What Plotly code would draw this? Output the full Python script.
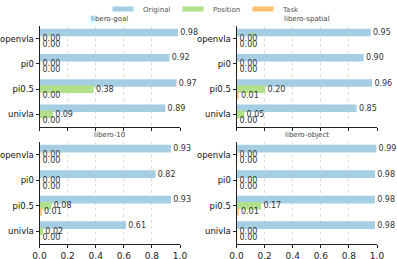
import plotly.graph_objects as go
from plotly.subplots import make_subplots

models = ["openvla", "pi0", "pi0.5", "univla"]
series_names = ["Original", "Position", "Task"]
colors = ["#a6cee3", "#b2df8a", "#fdbf6f"]

panel_titles = ["libero-goal", "libero-spatial", "libero-10", "libero-object"]

goal_original = [0.98, 0.92, 0.97, 0.89]
goal_position = [0.00, 0.00, 0.38, 0.09]
goal_task = [0.00, 0.00, 0.00, 0.00]

spatial_original = [0.95, 0.90, 0.96, 0.85]
spatial_position = [0.00, 0.00, 0.20, 0.05]
spatial_task = [0.00, 0.00, 0.01, 0.00]

ten_original = [0.93, 0.82, 0.93, 0.61]
ten_position = [0.00, 0.00, 0.08, 0.02]
ten_task = [0.00, 0.00, 0.01, 0.00]

object_original = [0.99, 0.98, 0.98, 0.98]
object_position = [0.00, 0.00, 0.17, 0.00]
object_task = [0.00, 0.00, 0.01, 0.00]

x_ticks = [0.0, 0.2, 0.4, 0.6, 0.8, 1.0]

panels = [
    (goal_original, goal_position, goal_task),
    (spatial_original, spatial_position, spatial_task),
    (ten_original, ten_position, ten_task),
    (object_original, object_position, object_task),
]
positions = [(1, 1), (1, 2), (2, 1), (2, 2)]

fig = make_subplots(rows=2, cols=2)

for p, (vals, (r, c)) in enumerate(zip(panels, positions)):
    for s, (name, col, v) in enumerate(zip(series_names, colors, vals)):
        fig.add_trace(
            go.Bar(
                y=models, x=v, name=name, orientation="h",
                marker=dict(color=col, line=dict(color=col, width=1.5)),
                texttemplate="%{x:.2f}", textposition="outside",
                constraintext="none", cliponaxis=False,
                textfont=dict(size=8, color="#333333", family="DejaVu Sans"),
                showlegend=False, legendgroup=name,
            ),
            row=r, col=c,
        )

# legend-only entries (rectangular swatches like the reference)
for name, col in zip(series_names, colors):
    fig.add_trace(
        go.Scatter(
            x=[None], y=[None], mode="markers", name=name, legendgroup=name,
            marker=dict(symbol="line-ew", size=15, color=col,
                        line=dict(color=col, width=5)),
            showlegend=True, hoverinfo="skip",
        ),
        row=1, col=1,
    )

W, H = 397, 259
xdom_left = [39.5 / W, 180 / W]
xdom_right = [236.5 / W, 377 / W]
ydom_top = [1 - 127 / H, 1 - 26 / H]
ydom_bot = [1 - 244 / H, 1 - 142 / H]

doms = {1: (xdom_left, ydom_top), 2: (xdom_right, ydom_top), 3: (xdom_left, ydom_bot), 4: (xdom_right, ydom_bot)}

for i in range(1, 5):
    xd, yd = doms[i]
    xk = "xaxis" if i == 1 else f"xaxis{i}"
    yk = "yaxis" if i == 1 else f"yaxis{i}"
    fig.layout[xk].update(
        domain=xd, range=[0, 1.0], tickvals=x_ticks,
        ticktext=[f"{t:.1f}" for t in x_ticks] if i >= 3 else [""] * len(x_ticks),
        showgrid=True, gridcolor="#dddddd", griddash="dot", gridwidth=1,
        showline=True, linecolor="#222222", linewidth=1,
        ticks="outside", ticklen=3, tickcolor="#222222",
        tickfont=dict(size=9, color="#222222", family="DejaVu Sans"),
        zeroline=False, automargin=False,
    )
    fig.layout[yk].update(
        domain=yd, autorange="reversed",
        showline=True, linecolor="#222222", linewidth=1,
        ticks="outside", ticklen=3, tickcolor="#222222",
        tickfont=dict(size=8.5, color="#111111", family="DejaVu Sans"),
        showgrid=False, automargin=False,
    )

for i, t in enumerate(panel_titles):
    xd, yd = doms[i + 1]
    fig.add_annotation(
        text=t, xref="paper", yref="paper",
        x=(xd[0] + xd[1]) / 2, y=yd[1] + 1 / H,
        xanchor="center", yanchor="bottom", showarrow=False,
        font=dict(size=7, color="#444444", family="DejaVu Sans"),
    )

fig.update_layout(
    width=W, height=H,
    margin=dict(l=0, r=0, t=0, b=0, pad=0, autoexpand=False),
    paper_bgcolor="white", plot_bgcolor="white",
    barmode="group", bargap=0.28, bargroupgap=0,
    legend=dict(
        orientation="h", x=103 / W, xanchor="left", y=1 - 9 / H, yanchor="middle",
        font=dict(size=7, color="#555555", family="DejaVu Sans"),
        bgcolor="rgba(0,0,0,0)", entrywidth=25, itemwidth=30,
        tracegroupgap=0,
    ),
    font=dict(family="DejaVu Sans"),
)

fig.write_html(
    "out.html",
    config={"displayModeBar": False},
    post_script="document.body.style.margin='0px';document.body.style.padding='0px';",
)
